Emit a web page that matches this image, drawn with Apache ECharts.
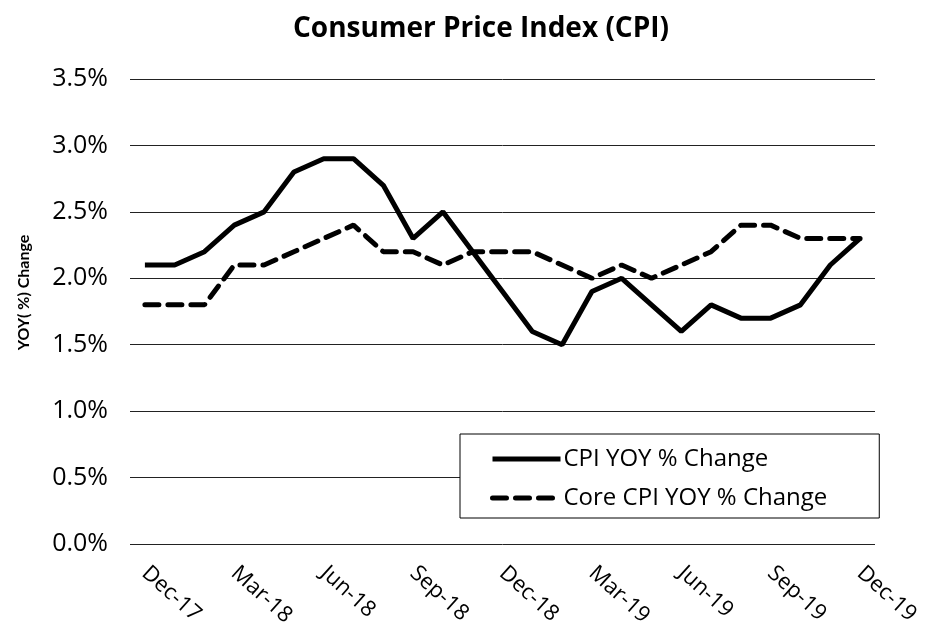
<!DOCTYPE html>
<html>
<head>
<meta charset="utf-8">
<script src="https://cdn.jsdelivr.net/npm/echarts@6/dist/echarts.min.js"></script>
<style>
  html, body { margin: 0; padding: 0; background: #fff; }
  #chart { width: 928px; height: 636px; }
</style>
</head>
<body>
<div id="chart"></div>
<script>
var months = ['Dec-17', 'Jan-18', 'Feb-18', 'Mar-18', 'Apr-18', 'May-18', 'Jun-18', 'Jul-18', 'Aug-18',
  'Sep-18', 'Oct-18', 'Nov-18', 'Dec-18', 'Jan-19', 'Feb-19', 'Mar-19', 'Apr-19', 'May-19', 'Jun-19',
  'Jul-19', 'Aug-19', 'Sep-19', 'Oct-19', 'Nov-19', 'Dec-19'];
var cpi = [2.1, 2.1, 2.2, 2.4, 2.5, 2.8, 2.9, 2.9, 2.7, 2.3, 2.5, 2.2, 1.9, 1.6, 1.5, 1.9, 2.0, 1.8, 1.6,
  1.8, 1.7, 1.7, 1.8, 2.1, 2.3];
var coreCpi = [1.8, 1.8, 1.8, 2.1, 2.1, 2.2, 2.3, 2.4, 2.2, 2.2, 2.1, 2.2, 2.2, 2.2, 2.1, 2.0, 2.1, 2.0, 2.1,
  2.2, 2.4, 2.4, 2.3, 2.3, 2.3];
var seriesNames = ['CPI YOY % Change', 'Core CPI YOY % Change'];

var font = '"Open Sans", Lato, sans-serif';
var chart = echarts.init(document.getElementById('chart'));
chart.setOption({
  animation: false,
  title: {
    text: 'Consumer Price Index (CPI)',
    left: 288,
    top: 10,
    textStyle: { fontFamily: font, fontSize: 28, fontWeight: 'bold', color: '#000' }
  },
  legend: {
    orient: 'vertical',
    left: 460,
    top: 434,
    padding: [13, 52, 8, 30],
    itemGap: 15,
    itemWidth: 68,
    itemHeight: 14,
    backgroundColor: '#fff',
    borderColor: '#000',
    borderWidth: 1,
    borderRadius: 0,
    itemStyle: { opacity: 0 },
    lineStyle: { width: 5 },
    textStyle: { fontFamily: font, fontSize: 24, color: '#000', padding: [0, 0, 0, -2] },
    data: seriesNames
  },
  grid: { left: 130, right: 53, top: 79, bottom: 92 },
  xAxis: {
    type: 'category',
    data: months,
    boundaryGap: true,
    axisLine: { show: false },
    axisTick: { show: false },
    axisLabel: {
      interval: 2,
      rotate: -42,
      margin: 26,
      fontFamily: font,
      fontSize: 22,
      color: '#000'
    }
  },
  yAxis: {
    type: 'value',
    min: 0,
    max: 3.5,
    interval: 0.5,
    name: 'YOY( %) Change',
    nameLocation: 'middle',
    nameGap: 98,
    nameTextStyle: {
      fontFamily: 'Lato, sans-serif', fontSize: 16, fontWeight: 'bold', color: '#000',
      padding: [0, 0, 0, 38]
    },
    axisLabel: {
      margin: 22,
      fontFamily: font,
      fontSize: 25,
      color: '#000',
      formatter: function (v) { return v.toFixed(1) + '%'; }
    },
    splitLine: { lineStyle: { color: '#222', width: 1 } }
  },
  series: [
    {
      name: seriesNames[0],
      type: 'line',
      data: cpi,
      symbol: 'none',
      color: '#000',
      lineStyle: { width: 5, color: '#000' }
    },
    {
      name: seriesNames[1],
      type: 'line',
      data: coreCpi,
      symbol: 'none',
      color: '#000',
      lineStyle: { width: 5, color: '#000', type: [14, 9], cap: 'round' }
    }
  ]
});
</script>
</body>
</html>
